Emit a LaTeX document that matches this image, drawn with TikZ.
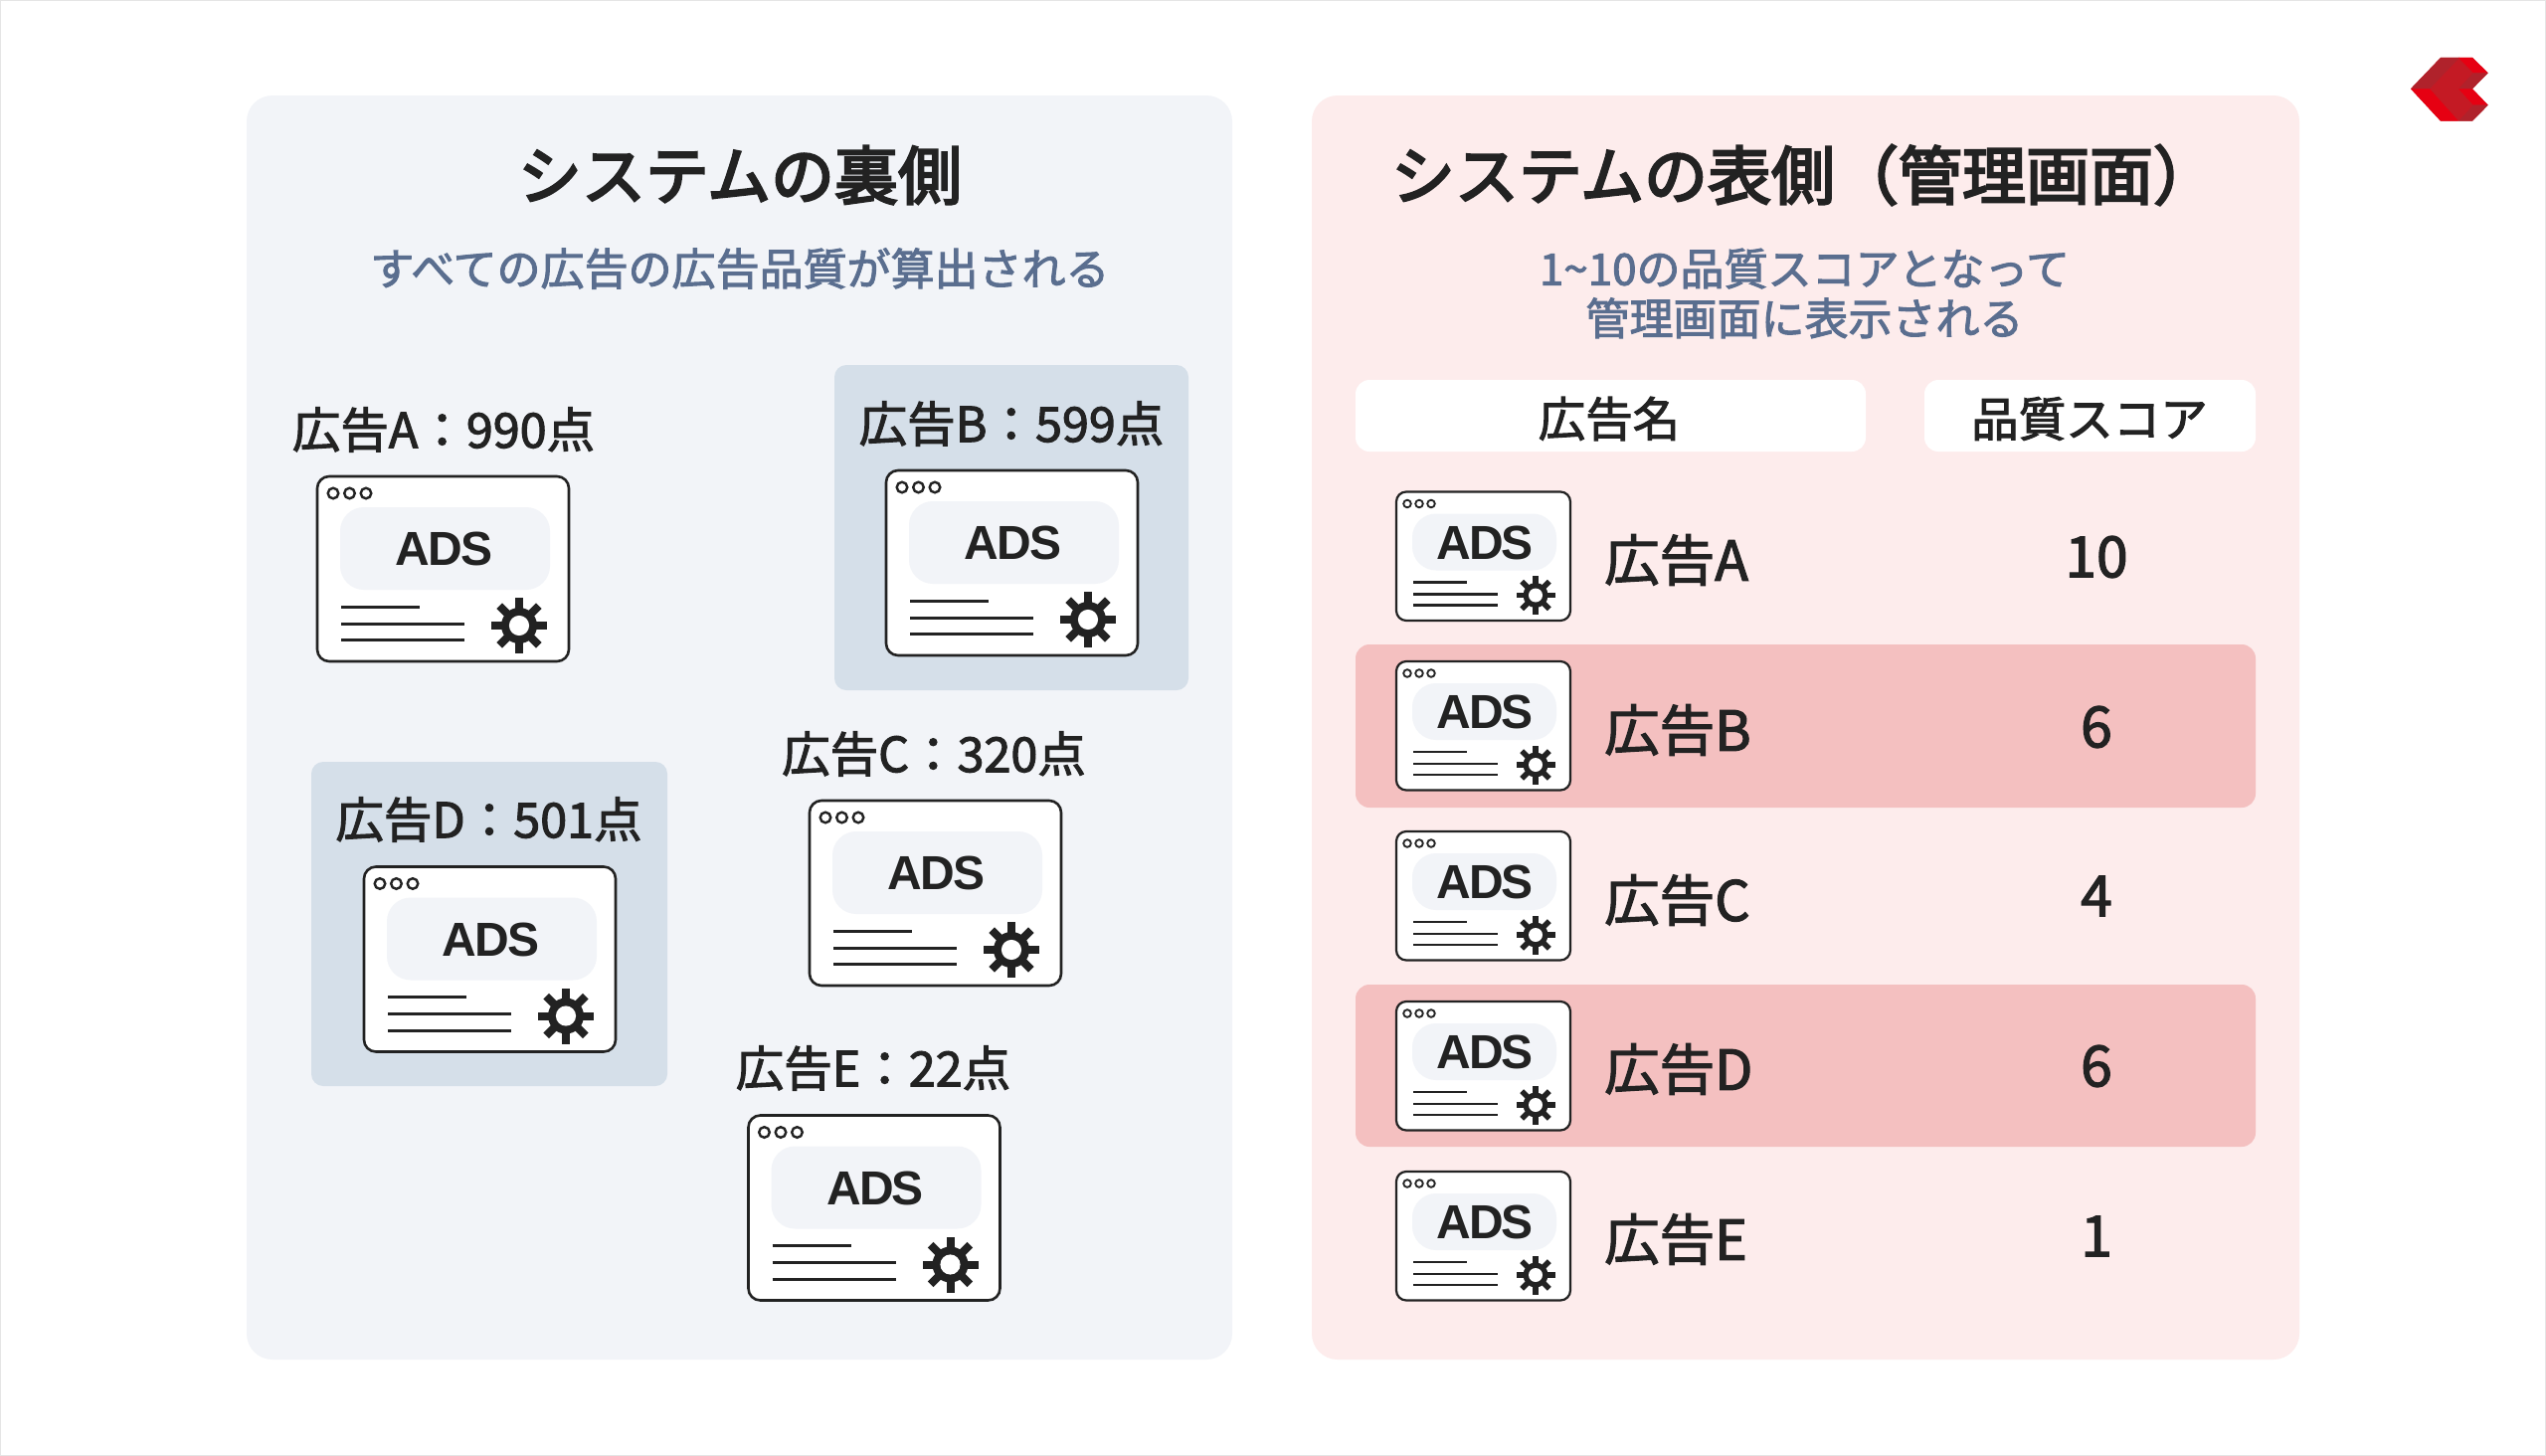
\documentclass[tikz,border=0pt]{standalone}
\usepackage{fontspec}
\setmainfont{Noto Sans CJK JP}
\newfontfamily\medjp[FakeBold=2.2]{Noto Sans CJK JP}
\newfontfamily\semijp[FakeBold=3.6]{Noto Sans CJK JP}
\newfontfamily\adsfont[LetterSpace=-4.5]{Liberation Sans}
\definecolor{ink}{HTML}{222222}
\definecolor{panelL}{HTML}{F2F4F8}
\definecolor{panelR}{HTML}{FDECEC}
\definecolor{hiB}{HTML}{D5DFE9}
\definecolor{hiR}{HTML}{F4C0C0}
\definecolor{subc}{HTML}{5A6E8F}
\definecolor{logoA}{HTML}{C41A24}
\definecolor{logoB}{HTML}{B0222B}
\definecolor{logoC}{HTML}{E60012}
\tikzset{
  x=1pt,y=-1pt,
  title/.style={font=\semijp\fontsize{64}{70}\selectfont,text=ink,inner sep=0pt},
  subtitle/.style={font=\medjp\fontsize{44}{50}\selectfont,text=subc,inner sep=0pt,align=center},
  adlabel/.style={font=\medjp\fontsize{48.5}{56}\selectfont,text=ink,inner sep=0pt},
  head/.style={font=\medjp\fontsize{47.5}{56}\selectfont,text=ink,inner sep=0pt},
  rowname/.style={font=\medjp\fontsize{55.5}{60}\selectfont,text=ink,inner sep=0pt,anchor=west},
  score/.style={font=\medjp\fontsize{57}{60}\selectfont,text=ink,inner sep=0pt},
  adstext/.style={font=\adsfont\bfseries\fontsize{48}{50}\selectfont,text=ink,inner sep=0pt},
}
\newcommand{\geargly}[5]{% x y R hub tooth
  \foreach \a in {0,45,...,315}{\draw[ink,line width=#5] (#1,#2) -- ++(\a:#3);}
  \fill[ink] (#1,#2) circle (#4);
  \fill[white] (#1,#2) circle (#4*0.56);
}
\newcommand{\bigad}[3]{%
\begin{scope}[shift={(#2,#3)}]
  \draw[ink,line width=2.6pt,fill=white,rounded corners=12] (0,0) rectangle (253,186);
  \foreach \d in {16,32.5,49}{\draw[ink,line width=2.4pt] (\d,17) circle (5.3);}
  \fill[panelL,rounded corners=24] (23,31) rectangle (234,114);
  \node[adstext] (#1) at (127.5,73) {ADS};
  \draw[ink,line width=3pt] (24,131) -- (103,131) (24,148) -- (148,148) (24,164.5) -- (148,164.5);
  \geargly{203}{150}{28}{18}{8pt}
\end{scope}}
\newcommand{\smallad}[3]{%
\begin{scope}[shift={(#2,#3)}]
  \draw[ink,line width=2.2pt,fill=white,rounded corners=10] (0,0) rectangle (175,129.5);
  \foreach \d in {11,23,35}{\draw[ink,line width=1.8pt] (\d,12) circle (3.8);}
  \fill[panelL,rounded corners=24] (16,22) rectangle (161,79);
  \node[adstext] (#1) at (89,51) {ADS};
  \draw[ink,line width=2.2pt] (17,91) -- (71,91) (17,103) -- (102,103) (17,114) -- (102,114);
  \geargly{140}{104}{19.5}{12.5}{5.5pt}
\end{scope}}
\begin{document}
\begin{tikzpicture}
\useasboundingbox (0,0) rectangle (2560,1464);
\fill[white] (0,0) rectangle (2560,1464);
\draw[black!10,line width=2pt] (0,0) rectangle (2560,1464);
% panels
\fill[panelL,rounded corners=26] (248,96) rectangle (1239,1367);
\fill[panelR,rounded corners=26] (1319,96) rectangle (2312,1367);
% left
\node[title] (tl) at (744,176) {システムの裏側};
\node[subtitle] (sl) at (744,270) {すべての広告の広告品質が算出される};
\fill[hiB,rounded corners=12] (839,367) rectangle (1195,694);
\fill[hiB,rounded corners=12] (313,766) rectangle (671,1092);
\node[adlabel] (la) at (446,432) {広告A：990点};
\node[adlabel] (lb) at (1017,426) {広告B：599点};
\node[adlabel] (lc) at (939,758) {広告C：320点};
\node[adlabel] (ld) at (491.5,824) {広告D：501点};
\node[adlabel] (le) at (878,1074) {広告E：22点};
\bigad{ia}{319}{479}
\bigad{ib}{891}{473}
\bigad{ic}{814}{805}
\bigad{id}{366}{871.5}
\bigad{ie}{752.5}{1121.5}
% right
\node[title] (tr) at (1814,176) {システムの表側（管理画面）};
\node[subtitle] (sr) at (1814.5,295) {1\textasciitilde 10の品質スコアとなって\\管理画面に表示される};
\fill[white,rounded corners=14] (1363,382) rectangle (1876,454);
\fill[white,rounded corners=14] (1935,382) rectangle (2268,454);
\node[head] (h1) at (1618,421) {広告名};
\node[head] (h2) at (2101,421) {品質スコア};
\fill[hiR,rounded corners=14] (1363,648) rectangle (2268,812);
\fill[hiR,rounded corners=14] (1363,990) rectangle (2268,1153);
\smallad{sa}{1404}{494.5}
\smallad{sb}{1404}{665}
\smallad{sc}{1404}{836}
\smallad{sd}{1404}{1007}
\smallad{se}{1404}{1178}
\node[rowname] (na) at (1613,563) {広告A};
\node[rowname] (nb) at (1613,734) {広告B};
\node[rowname] (nc) at (1613,905) {広告C};
\node[rowname] (nd) at (1613,1075) {広告D};
\node[rowname] (ne) at (1613,1246) {広告E};
\node[score] (va) at (2108,560) {10};
\node[score] (vb) at (2108,731) {6};
\node[score] (vc) at (2108,901) {4};
\node[score] (vd) at (2108,1072) {6};
\node[score] (ve) at (2108,1243) {1};
% logo
\fill[logoA] (2424,89.3) -- (2454,58) -- (2486,58) -- (2501.7,73.3) -- (2486,89.3) -- (2501.7,105.7) -- (2486,121.7) -- (2454,121.7) -- cycle;
\fill[logoB] (2424,89.3) -- (2454,58) -- (2473,58) -- (2443,89.3) -- cycle;
\fill[logoC] (2424,89.3) -- (2443,89.3) -- (2472,121.7) -- (2454,121.7) -- cycle;
\fill[logoC] (2472,58) -- (2486,58) -- (2501.7,73.3) -- (2487,73.3) -- cycle;
\fill[logoB] (2487,73.3) -- (2501.7,73.3) -- (2486,89.3) -- (2472,89.3) -- cycle;
\fill[logoC] (2472,89.3) -- (2486,89.3) -- (2501.7,105.7) -- (2487,105.7) -- cycle;
\fill[logoB] (2487,105.7) -- (2501.7,105.7) -- (2486,121.7) -- (2472,121.7) -- cycle;
\end{tikzpicture}
\end{document}
